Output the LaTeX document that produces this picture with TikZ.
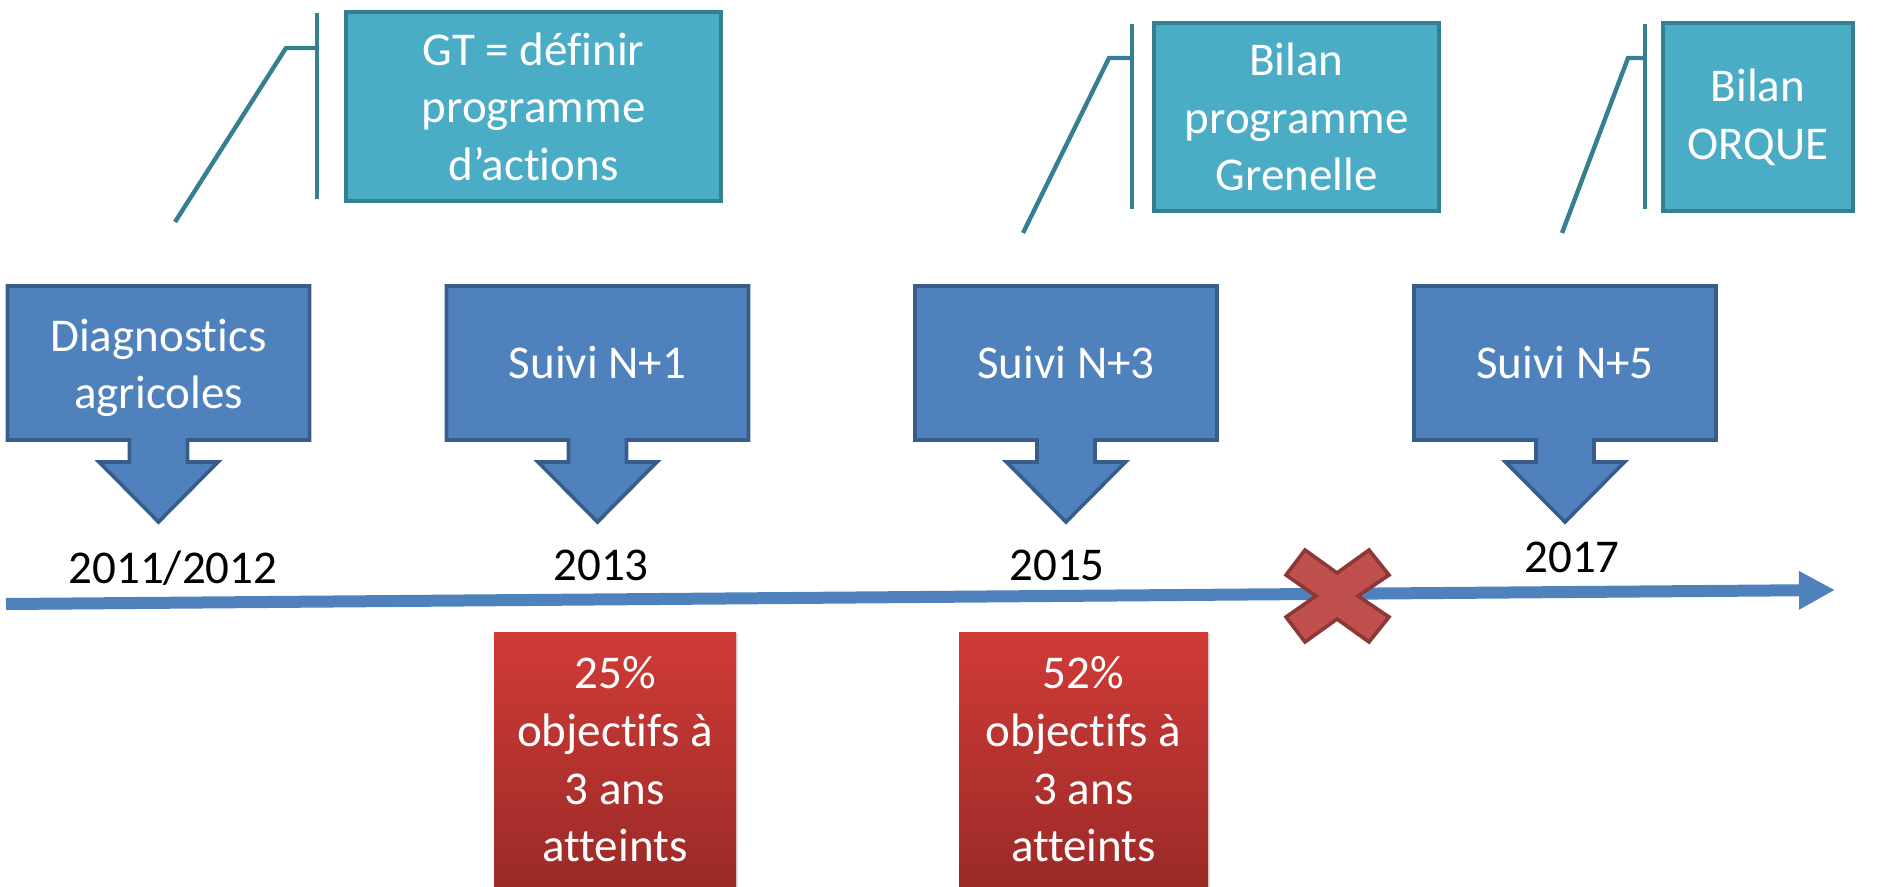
\documentclass[tikz,border=0pt]{standalone}
\usepackage{fontspec}
\setmainfont{Carlito}[Ligatures=NoCommon]
\usetikzlibrary{arrows.meta,shadows}
\definecolor{bluefill}{HTML}{4F81BD}
\definecolor{blueline}{HTML}{385D8A}
\definecolor{tealfill}{HTML}{4BACC6}
\definecolor{tealline}{HTML}{357F91}
\definecolor{xfill}{HTML}{C0504D}
\definecolor{xline}{HTML}{8C3836}
\definecolor{redtop}{HTML}{D03B37}
\definecolor{redbot}{HTML}{9B2A27}
\newcommand{\dcallout}[4]{%
  \path[fill=bluefill, draw=blueline, line width=1.8pt]
    ({#2-151},286) -- ({#2+151},286) -- ({#2+151},440) -- ({#2+29},440) -- ({#2+29},462)
    -- ({#2+59.5},462) -- (#2,522) -- ({#2-59.5},462) -- ({#2-29},462) -- ({#2-29},440)
    -- ({#2-151},440) -- cycle;
  \node[boxtext] (#1) at (#2,#3) {#4};}
\tikzset{
  bigfont/.style={font=\fontsize{23.5}{28.8}\selectfont},
  boxtext/.style={bigfont, text=white, align=center, inner sep=0pt},
  tealbox/.style={bigfont, text=white, align=center, inner sep=0pt, fill=tealfill, draw=tealline, line width=2pt},
  tealconn/.style={draw=tealline, line width=2.2pt},
  redbox/.style={bigfont, text=white, align=center, inner sep=0pt, top color=redtop, bottom color=redbot,
    drop shadow={opacity=0.25, shadow xshift=1.2pt, shadow yshift=-0.6pt}},
  yeartext/.style={bigfont, text=black, anchor=base, inner sep=0pt},
}
\begin{document}
\begin{tikzpicture}[x=0.5pt,y=-0.5pt]
\useasboundingbox (0,0) rectangle (1877,887);

% timeline
\coordinate (tl0) at (6,604);
\coordinate (tl1) at (1835,590);
\draw[draw=bluefill, line width=6pt, -{Triangle[length=18pt,width=18pt]}] (tl0) -- (tl1);

% blue down-arrow callouts
\dcallout{b1}{158.5}{368}{Diagnostics\\agricoles}
\dcallout{b2}{597.5}{363}{Suivi N+1}
\dcallout{b3}{1066}{363}{Suivi N+3}
\dcallout{b4}{1565}{363}{Suivi N+5}

% years
\node[yeartext] (y1) at (173,583) {2011/2012};
\node[yeartext] (y2) at (601,580) {2013};
\node[yeartext] (y3) at (1057,580) {2015};
\node[yeartext] (y4) at (1572,572) {2017};

% teal callouts
\node[tealbox, minimum width=187.5pt, minimum height=94.5pt] (t1) at (533.5,106.5) {GT = définir\\programme\\d’actions};
\node[tealbox, minimum width=142.5pt, minimum height=94pt] (t2) at (1296.5,117) {Bilan\\programme\\Grenelle};
\node[tealbox, minimum width=95pt, minimum height=94pt] (t3) at (1758,117) {Bilan\\ORQUE};

\coordinate (t1top) at (317,13);  \coordinate (t1bot) at (317,199);
\coordinate (t1join) at (317,48); \coordinate (t1knee) at (286,48); \coordinate (t1tail) at (175,222);
\coordinate (t2top) at (1132,24);  \coordinate (t2bot) at (1132,209);
\coordinate (t2join) at (1132,58); \coordinate (t2knee) at (1109,58); \coordinate (t2tail) at (1023,233);
\coordinate (t3top) at (1645,24);  \coordinate (t3bot) at (1645,209);
\coordinate (t3join) at (1645,58); \coordinate (t3knee) at (1628,58); \coordinate (t3tail) at (1562,233);
\foreach \i in {1,2,3}{
  \draw[tealconn] (t\i top) -- (t\i bot);
  \draw[tealconn] (t\i tail) -- (t\i knee) -- (t\i join);
}

% red X
\path[fill=xfill, draw=xline, line width=1.8pt, line join=miter]
  (1305,550) -- (1337,573) -- (1369,550) -- (1389,575) -- (1358,596) -- (1389,617)
  -- (1369,642) -- (1337,619) -- (1305,642) -- (1286,617) -- (1316,596) -- (1286,575) -- cycle;

% red boxes
\node[redbox, minimum width=121pt, minimum height=127.5pt] (r1) at (615,759.5) {25\%\\objectifs à\\3 ans\\atteints};
\node[redbox, minimum width=124.5pt, minimum height=127.5pt] (r2) at (1083.5,759.5) {52\%\\objectifs à\\3 ans\\atteints};
\end{tikzpicture}
\end{document}
